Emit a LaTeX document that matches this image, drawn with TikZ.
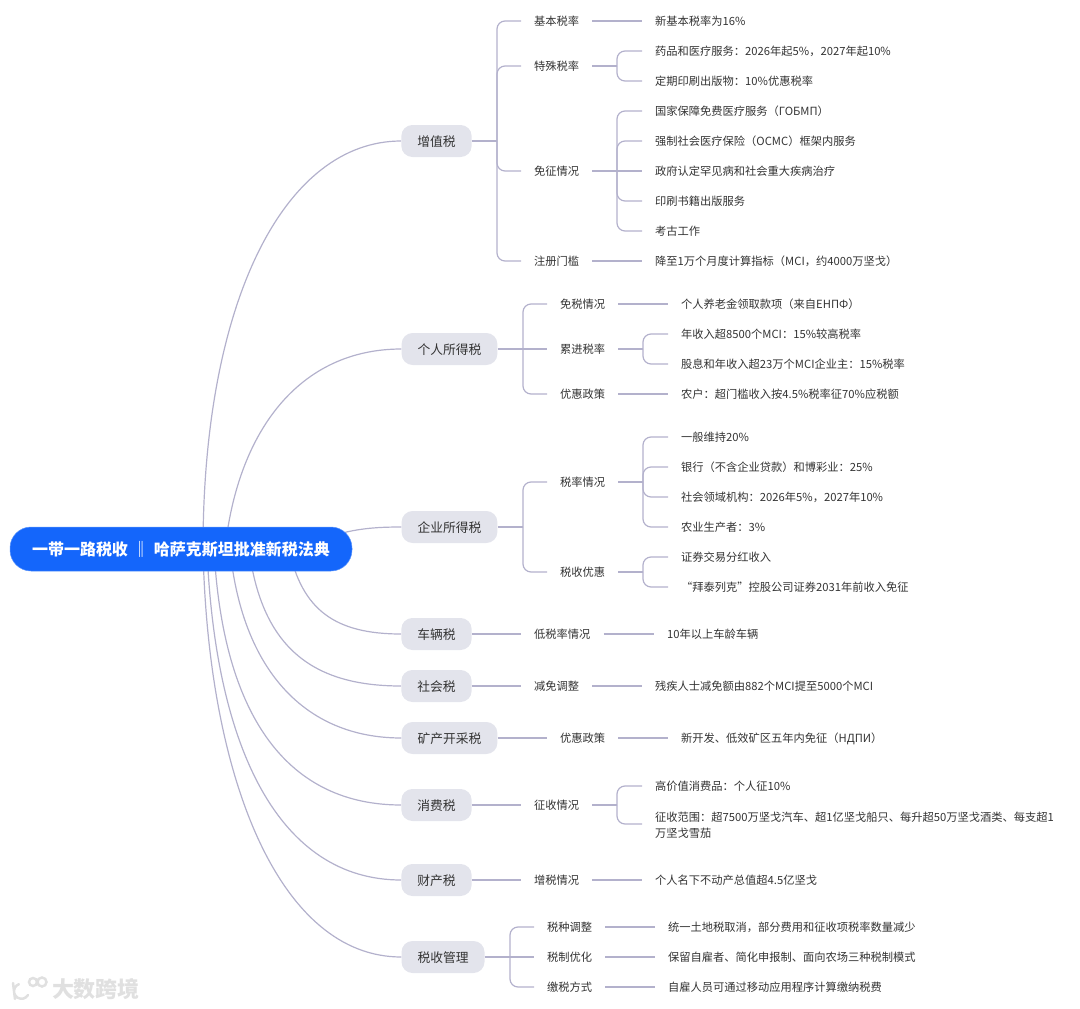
\documentclass[tikz,border=0pt]{standalone}
\usepackage{fontspec}
\setmainfont{Noto Sans CJK SC}
\usetikzlibrary{backgrounds}
\definecolor{linecol}{HTML}{B3B1CC}
\definecolor{branchcol}{HTML}{E3E4EC}
\definecolor{rootcol}{HTML}{1466FB}
\definecolor{textcol}{HTML}{333333}
\definecolor{markcol}{HTML}{E0E0E0}

\begin{document}
\begin{tikzpicture}[
    x=1pt, y=-1pt,
    rootbox/.style={rectangle, fill=rootcol, draw=rootcol!70!white, line width=0.5pt, rounded corners=21pt, text=white, minimum width=342pt, minimum height=44pt, inner sep=0pt, font=\fontsize{16}{20}\selectfont\bfseries},
    branch/.style={rectangle, fill=branchcol, rounded corners=11pt, text=textcol, minimum height=32pt, inner xsep=16pt, inner ysep=0pt, text height=12pt, text depth=1.6pt, font=\fontsize{12.75}{16}\selectfont},
    topic/.style={rectangle, anchor=west, text=textcol, inner xsep=13pt, inner ysep=0pt, text height=11.2pt, text depth=1.4pt, font=\fontsize{11.25}{16}\selectfont},
    leaf/.style={topic},
    link/.style={draw=linecol, line width=1.2pt, rounded corners=8pt},
    curve/.style={draw=linecol, line width=1.2pt}
]

\useasboundingbox (0,0) rectangle (1080,1009);

\node (root) [rootbox] at (181,549) {一带一路税收\hspace{5pt}‖\hspace{5pt}哈萨克斯坦批准新税法典};

\node (vat) [branch] at (436.5,141) {增值税};
\node (pit) [branch] at (449.5,349) {个人所得税};
\node (cit) [branch] at (449.5,527) {企业所得税};
\node (car) [branch] at (436.5,634) {车辆税};
\node (soc) [branch] at (436.5,686) {社会税};
\node (min) [branch] at (449.5,738) {矿产开采税};
\node (exc) [branch] at (436.5,805) {消费税};
\node (pro) [branch] at (436.5,880) {财产税};
\node (adm) [branch] at (443,957) {税收管理};

\node (vatA) [topic] at (521,21) {基本税率};
\node (vatB) [topic] at (521,66) {特殊税率};
\node (vatC) [topic] at (521,171) {免征情况};
\node (vatD) [topic] at (521,261) {注册门槛};
\node (pitA) [topic] at (547,304) {免税情况};
\node (pitB) [topic] at (547,349) {累进税率};
\node (pitC) [topic] at (547,394) {优惠政策};
\node (citA) [topic] at (547,482) {税率情况};
\node (citB) [topic] at (547,572) {税收优惠};
\node (carA) [topic] at (521,634) {低税率情况};
\node (socA) [topic] at (521,686) {减免调整};
\node (minA) [topic] at (547,738) {优惠政策};
\node (excA) [topic] at (521,805) {征收情况};
\node (proA) [topic] at (521,880) {增税情况};
\node (admA) [topic] at (534,927) {税种调整};
\node (admB) [topic] at (534,957) {税制优化};
\node (admC) [topic] at (534,987) {缴税方式};

\node (vatA1) [leaf] at (642,21) {新基本税率为16\%};
\node (vatB1) [leaf] at (642,51) {药品和医疗服务：2026年起5\%，2027年起10\%};
\node (vatB2) [leaf] at (642,81) {定期印刷出版物：10\%优惠税率};
\node (vatC1) [leaf] at (642,111) {国家保障免费医疗服务（ГОБМП）};
\node (vatC2) [leaf] at (642,141) {强制社会医疗保险（ОСМС）框架内服务};
\node (vatC3) [leaf] at (642,171) {政府认定罕见病和社会重大疾病治疗};
\node (vatC4) [leaf] at (642,201) {印刷书籍出版服务};
\node (vatC5) [leaf] at (642,231) {考古工作};
\node (vatD1) [leaf] at (642,261) {降至1万个月度计算指标（MCI，约4000万坚戈）};
\node (pitA1) [leaf] at (668,304) {个人养老金领取款项（来自ЕНПФ）};
\node (pitB1) [leaf] at (668,334) {年收入超8500个MCI：15\%较高税率};
\node (pitB2) [leaf] at (668,364) {股息和年收入超23万个MCI企业主：15\%税率};
\node (pitC1) [leaf] at (668,394) {农户：超门槛收入按4.5\%税率征70\%应税额};
\node (citA1) [leaf] at (668,437) {一般维持20\%};
\node (citA2) [leaf] at (668,467) {银行（不含企业贷款）和博彩业：25\%};
\node (citA3) [leaf] at (668,497) {社会领域机构：2026年5\%，2027年10\%};
\node (citA4) [leaf] at (668,527) {农业生产者：3\%};
\node (citB1) [leaf] at (668,557) {证券交易分红收入};
\node (citB2) [leaf] at (668,587) {“拜泰列克”控股公司证券2031年前收入免征};
\node (carA1) [leaf] at (654,634) {10年以上车龄车辆};
\node (socA1) [leaf] at (642,686) {残疾人士减免额由882个MCI提至5000个MCI};
\node (minA1) [leaf] at (668,738) {新开发、低效矿区五年内免征（НДПИ）};
\node (excA1) [leaf] at (642,786) {高价值消费品：个人征10\%};
\node (excA2) [leaf, align=left] at (642,833) {征收范围：超7500万坚戈汽车、超1亿坚戈船只、每升超50万坚戈酒类、每支超1\\万坚戈雪茄};
\node (proA1) [leaf] at (642,880) {个人名下不动产总值超4.5亿坚戈};
\node (admA1) [leaf] at (655,927) {统一土地税取消，部分费用和征收项税率数量减少};
\node (admB1) [leaf] at (655,957) {保留自雇者、简化申报制、面向农场三种税制模式};
\node (admC1) [leaf] at (655,987) {自雇人员可通过移动应用程序计算缴纳税费};

\coordinate (vatF) at (497,141);
\coordinate (vatBF) at (617,66);
\coordinate (vatCF) at (617,171);
\coordinate (pitF) at (523,349);
\coordinate (pitBF) at (643,349);
\coordinate (citF) at (523,527);
\coordinate (citAF) at (643,482);
\coordinate (citBF) at (643,572);
\coordinate (excF) at (617,805);
\coordinate (excB) at (642,824);
\coordinate (admF) at (510,957);

\node (mark) [text=markcol, inner sep=0pt, font=\fontsize{22}{24}\selectfont\bfseries] at (96,989) {大数跨境};
\draw [draw=markcol, line width=2.5pt, line cap=round] (13,983) -- (15,999) (28,995) arc (30:250:7.5) (33,982) circle (4) (42,982) circle (4.5);

\begin{scope}[on background layer]
\draw [curve] ([xshift=22pt]root.center) .. controls (203,300) and (285,141) .. (vat.west);
\draw [curve] ([xshift=44pt]root.center) .. controls (238,430) and (300,349) .. (pit.west);
\draw [curve] ([xshift=119pt]root.center) .. controls (340,529) and (370,527) .. (cit.west);
\draw [curve] ([xshift=108pt]root.center) .. controls (302,610) and (335,634) .. (car.west);
\draw [curve] ([xshift=68pt]root.center) .. controls (262,650) and (315,686) .. (soc.west);
\draw [curve] ([xshift=49pt]root.center) .. controls (242,670) and (305,738) .. (min.west);
\draw [curve] ([xshift=33pt]root.center) .. controls (223,720) and (290,805) .. (exc.west);
\draw [curve] ([xshift=26pt]root.center) .. controls (215,750) and (280,880) .. (pro.west);
\draw [curve] ([xshift=22pt]root.center) .. controls (208,780) and (280,957) .. (adm.west);
\end{scope}

\draw [link] (vat.east) -- (vatF);
\draw [link] (vatF) |- (vatA.west);
\draw [link] (vatF) |- (vatB.west);
\draw [link] (vatF) |- (vatC.west);
\draw [link] (vatF) |- (vatD.west);
\draw [link] (vatA.east) -- (vatA1.west);
\draw [link] (vatB.east) -- (vatBF);
\draw [link] (vatBF) |- (vatB1.west);
\draw [link] (vatBF) |- (vatB2.west);
\draw [link] (vatC.east) -- (vatC3.west);
\draw [link] (vatCF) |- (vatC1.west);
\draw [link] (vatCF) |- (vatC2.west);
\draw [link] (vatCF) |- (vatC4.west);
\draw [link] (vatCF) |- (vatC5.west);
\draw [link] (vatD.east) -- (vatD1.west);

\draw [link] (pit.east) -- (pitB.west);
\draw [link] (pitF) |- (pitA.west);
\draw [link] (pitF) |- (pitC.west);
\draw [link] (pitA.east) -- (pitA1.west);
\draw [link] (pitB.east) -- (pitBF);
\draw [link] (pitBF) |- (pitB1.west);
\draw [link] (pitBF) |- (pitB2.west);
\draw [link] (pitC.east) -- (pitC1.west);

\draw [link] (cit.east) -- (citF);
\draw [link] (citF) |- (citA.west);
\draw [link] (citF) |- (citB.west);
\draw [link] (citA.east) -- (citAF);
\draw [link] (citAF) |- (citA1.west);
\draw [link] (citAF) |- (citA2.west);
\draw [link] (citAF) |- (citA3.west);
\draw [link] (citAF) |- (citA4.west);
\draw [link] (citB.east) -- (citBF);
\draw [link] (citBF) |- (citB1.west);
\draw [link] (citBF) |- (citB2.west);

\draw [link] (car.east) -- (carA.west);
\draw [link] (carA.east) -- (carA1.west);
\draw [link] (soc.east) -- (socA.west);
\draw [link] (socA.east) -- (socA1.west);
\draw [link] (min.east) -- (minA.west);
\draw [link] (minA.east) -- (minA1.west);
\draw [link] (exc.east) -- (excA.west);
\draw [link] (excA.east) -- (excF);
\draw [link] (excF) |- (excA1.west);
\draw [link] (excF) |- (excB);
\draw [link] (pro.east) -- (proA.west);
\draw [link] (proA.east) -- (proA1.west);

\draw [link] (adm.east) -- (admB.west);
\draw [link] (admF) |- (admA.west);
\draw [link] (admF) |- (admC.west);
\draw [link] (admA.east) -- (admA1.west);
\draw [link] (admB.east) -- (admB1.west);
\draw [link] (admC.east) -- (admC1.west);

\end{tikzpicture}
\end{document}
